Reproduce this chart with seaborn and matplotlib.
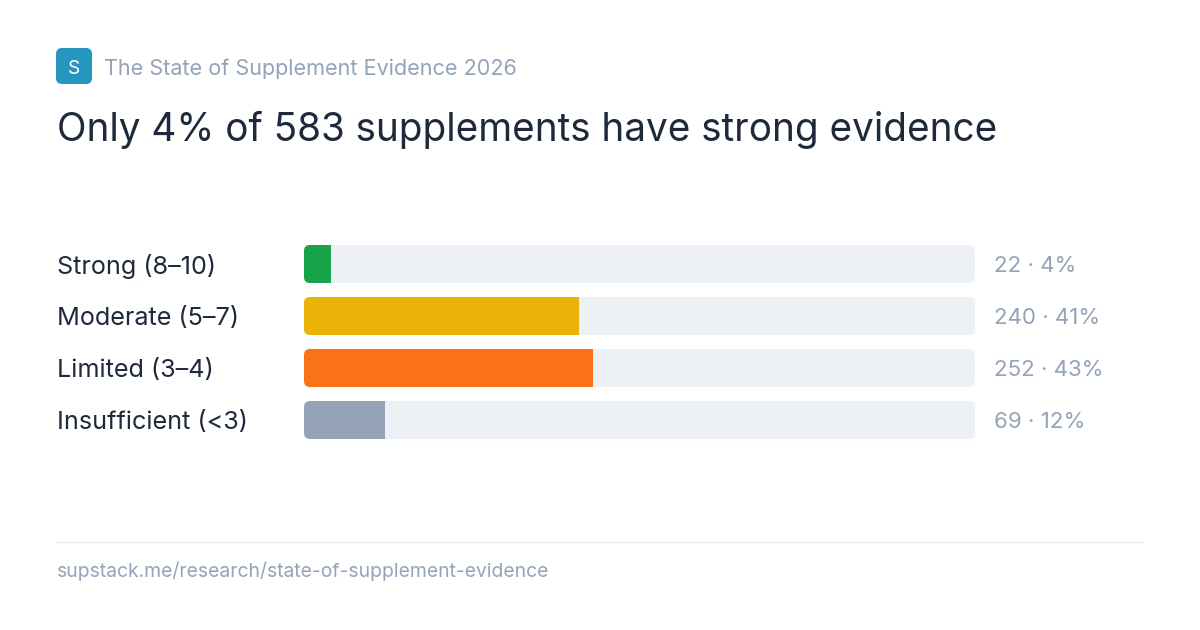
import matplotlib
matplotlib.use("Agg")
import matplotlib.pyplot as plt
from matplotlib.patches import FancyBboxPatch, Rectangle
import seaborn as sns
import pandas as pd

# ---- data ----
categories = ["Strong (8–10)", "Moderate (5–7)", "Limited (3–4)", "Insufficient (<3)"]
counts = [22, 240, 252, 69]
percents = [4, 41, 43, 12]
colors = ["#16a34a", "#eab308", "#f97316", "#94a3b8"]

title = "Only 4% of 583 supplements have strong evidence"
subtitle = "The State of Supplement Evidence 2026"
footer = "supstack.me/research/state-of-supplement-evidence"

TRACK = "#edf0f5"
DARK = "#1e293b"
MUTED = "#94a3b8"

sns.set_theme(style="white")
plt.rcParams["font.family"] = ["Inter", "DejaVu Sans"]

W, H = 1200, 630
fig = plt.figure(figsize=(W / 100, H / 100), dpi=100)
fig.patch.set_facecolor("white")

def fx(px):
    return px / W

def fy(py):
    return 1 - py / H

def pt(px):
    return px * 0.72

df = pd.DataFrame({
    "category": categories,
    "pct": percents,
    "full": [100] * len(categories),
})

# axes covering the bar tracks
x0, x1 = 304, 975
top, bot = 238, 446
ax = fig.add_axes([fx(x0), fy(bot), fx(x1 - x0), (bot - top) / H])
bar_h = 38 / 52

sns.barplot(data=df, y="category", x="full", color=TRACK, width=bar_h, ax=ax,
            orient="h", saturation=1)
n_track = len(ax.patches)
sns.barplot(data=df, y="category", x="pct", hue="category", palette=colors,
            width=bar_h, ax=ax, orient="h", saturation=1, legend=False)
ax.set_xlim(0, 100)
ax.set_ylim(len(categories) - 0.5, -0.5)
ax.axis("off")

# rounded corners: convert pixel radius to data units
px_per_x = (x1 - x0) / 100.0
px_per_y = (bot - top) / len(categories)
radius_px = 6
rx = radius_px / px_per_x
ry = radius_px / px_per_y
aspect = ry / rx

patches = list(ax.patches)
for i, p in enumerate(patches):
    x, y = p.get_x(), p.get_y()
    w, h = p.get_width(), p.get_height()
    fc = p.get_facecolor()
    p.remove()
    rp = FancyBboxPatch((x, y), w, h,
                        boxstyle=f"round,pad=0,rounding_size={rx}",
                        mutation_aspect=aspect, facecolor=fc, edgecolor="none",
                        zorder=2 if i >= n_track else 1)
    ax.add_patch(rp)
    if i >= n_track and w > rx:
        # square off the right end of the fill
        ax.add_patch(Rectangle((x + w - rx, y), rx, h, facecolor=fc,
                               edgecolor="none", zorder=2))

# category labels and values
for i, cat in enumerate(categories):
    yc = fy(264 + 52 * i)
    fig.text(fx(57), yc, cat, fontsize=pt(25.2), color=DARK, va="center_baseline", ha="left")
    fig.text(fx(994), yc, f"{counts[i]} · {percents[i]}%", fontsize=pt(22.3),
             color=MUTED, va="center_baseline", ha="left")

# header logo
logo_ax = fig.add_axes([0, 0, 1, 1], zorder=-1)
logo_ax.set_xlim(0, W)
logo_ax.set_ylim(H, 0)
logo_ax.axis("off")
logo_ax.add_patch(FancyBboxPatch((56, 48), 36, 36, boxstyle="round,pad=0,rounding_size=6",
                                 facecolor="#2596be", edgecolor="none"))
logo_ax.text(74, 67, "S", fontsize=pt(19), color="white", ha="center", va="center_baseline")
logo_ax.text(104, 67, subtitle, fontsize=pt(21.6), color=MUTED, ha="left", va="center_baseline")
logo_ax.text(57, 125.5, title, fontsize=pt(38.7), color=DARK, ha="left", va="center_baseline")

# footer
logo_ax.plot([57, 1143], [541.5, 541.5], color="#eceff3", lw=1)
logo_ax.text(57, 569, footer, fontsize=pt(19.3), color=MUTED, ha="left", va="center_baseline")

fig.savefig("out.png", dpi=100, facecolor="white")
